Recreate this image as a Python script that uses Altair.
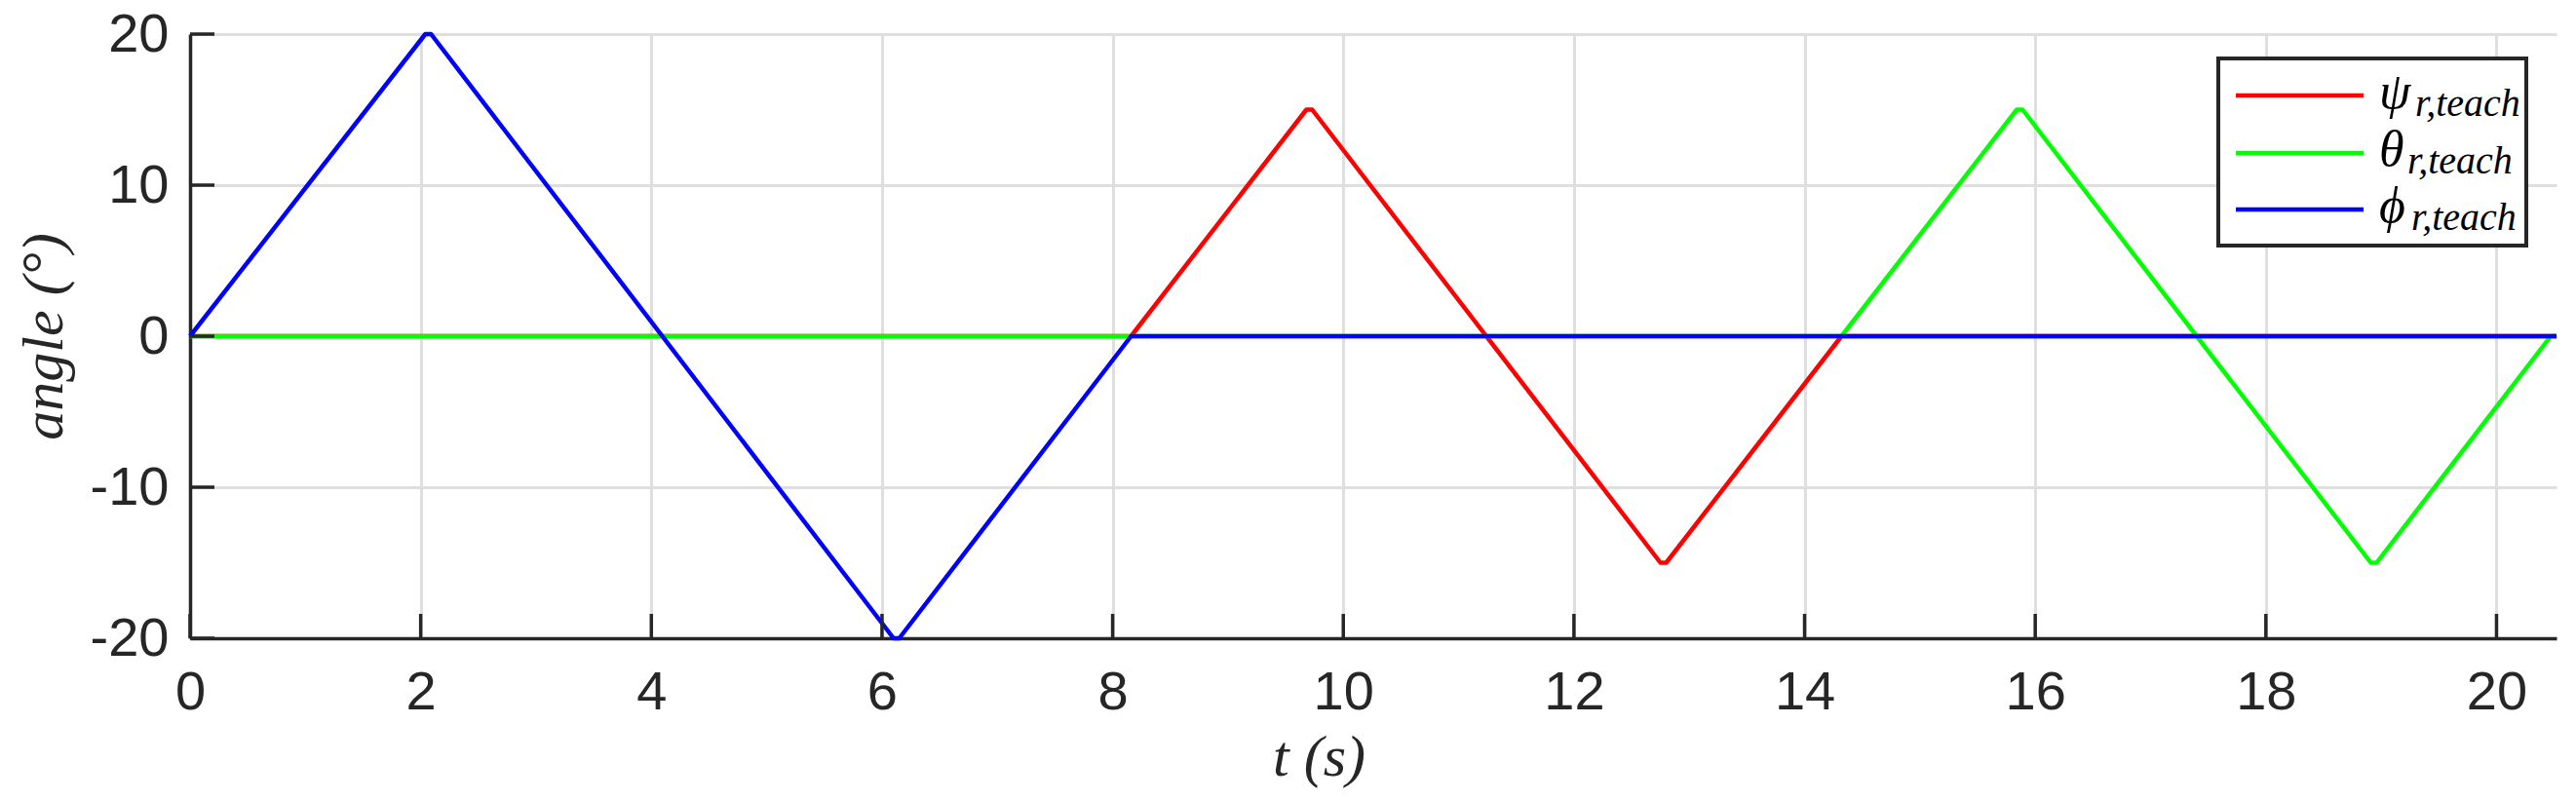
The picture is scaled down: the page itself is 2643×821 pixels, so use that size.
import altair as alt
import pandas as pd

# ---- data ----
t_psi = [0, 8.16, 9.68, 9.73, 12.75, 12.80, 14.32, 20.52]
psi = [0, 0, 15, 15, -15, -15, 0, 0]

t_theta = [0, 14.32, 15.84, 15.89, 18.91, 18.96, 20.47, 20.52]
theta = [0, 0, 15, 15, -15, -15, 0, 0]

t_phi = [0, 2.04, 2.09, 6.10, 6.15, 8.16, 20.52]
phi = [0, 20, 20, -20, -20, 0, 0]

x_ticks = [0, 2, 4, 6, 8, 10, 12, 14, 16, 18, 20]
y_ticks = [-20, -10, 0, 10, 20]

legend_names = ["ψ", "θ", "ϕ"]
legend_sub = "r,teach"
colors = ["#ff0000", "#00ff00", "#0000ff"]

W, H = 2428, 620
X_MAX = 20.52
INK = "#262626"
GRID = "#dfdfdf"

xscale = alt.Scale(domain=[0, X_MAX], nice=False, zero=False)
yscale = alt.Scale(domain=[-20, 20], nice=False, zero=False)

x_axis = alt.Axis(
    values=x_ticks, grid=True, gridColor=GRID, gridWidth=3, ticks=False,
    domainColor=INK, domainWidth=3.5, labelFlush=False,
    labelFont="Liberation Sans", labelFontSize=56, labelColor=INK, labelPadding=28,
    labelExpr="'' + datum.value",
    title="t (s)", titleFont="Liberation Serif", titleFontStyle="italic",
    titleFontWeight="normal", titleFontSize=60, titleColor=INK,
    titleX=1158, titleY=122, titleAlign="center", titleBaseline="middle",
)
y_axis = alt.Axis(
    values=y_ticks, grid=True, gridColor=GRID, gridWidth=3, ticks=False,
    domainColor=INK, domainWidth=3.5, labelFlush=False,
    labelFont="Liberation Sans", labelFontSize=56, labelColor=INK, labelPadding=22,
    labelExpr="'' + datum.value",
    title="angle (°)", titleFont="Liberation Serif", titleFontStyle="italic",
    titleFontWeight="normal", titleFontSize=60, titleColor=INK,
    titleX=-150, titleY=310, titleAlign="center", titleBaseline="middle", titleAngle=-90,
)

X = alt.X("t:Q", scale=xscale, axis=x_axis)
Y = alt.Y("v:Q", scale=yscale, axis=y_axis)


def line(t, v, c):
    return alt.Chart(pd.DataFrame({"t": t, "v": v})).mark_line(
        color=c, strokeWidth=4.5, strokeJoin="round"
    ).encode(x=X, y=Y)


lines = [line(t_psi, psi, colors[0]), line(t_theta, theta, colors[1]), line(t_phi, phi, colors[2])]

xt = alt.Chart(pd.DataFrame({"t": x_ticks})).mark_rule(color=INK, strokeWidth=3.5).encode(
    x=X, y=alt.value(H), y2=alt.value(H - 25)
)
yt = alt.Chart(pd.DataFrame({"v": y_ticks})).mark_rule(color=INK, strokeWidth=3.5).encode(
    y=Y, x=alt.value(0), x2=alt.value(25)
)

one = pd.DataFrame({"a": [0]})
legend_box = alt.Chart(one).mark_rect(fill="white", stroke=INK, strokeWidth=4).encode(
    x=alt.value(2081), x2=alt.value(2397), y=alt.value(25), y2=alt.value(217)
)

legend_layers = [legend_box]
row_y = [63, 122, 180]
sub_x = [2283, 2275, 2279]
for name, c, ly, sx in zip(legend_names, colors, row_y, sub_x):
    legend_layers.append(
        alt.Chart(one).mark_rule(color=c, strokeWidth=4.5).encode(
            x=alt.value(2099), x2=alt.value(2230), y=alt.value(ly)
        )
    )
    legend_layers.append(
        alt.Chart(one).mark_text(
            text=name, font="Liberation Serif", fontStyle="italic", fontSize=52,
            align="left", baseline="alphabetic", color="#000000"
        ).encode(x=alt.value(2246), y=alt.value(ly + 13))
    )
    legend_layers.append(
        alt.Chart(one).mark_text(
            text=legend_sub, font="Liberation Serif", fontStyle="italic", fontSize=40,
            align="left", baseline="alphabetic", color="#000000"
        ).encode(x=alt.value(sx), y=alt.value(ly + 21))
    )

chart = alt.layer(*lines, xt, yt, *legend_layers).properties(
    width=W, height=H,
    autosize=alt.AutoSizeParams(type="none"),
    padding={"left": 187, "top": 27, "right": 12, "bottom": 158},
).configure_view(stroke=None)

chart.save("out.html", embed_options={"renderer": "svg", "actions": False})
